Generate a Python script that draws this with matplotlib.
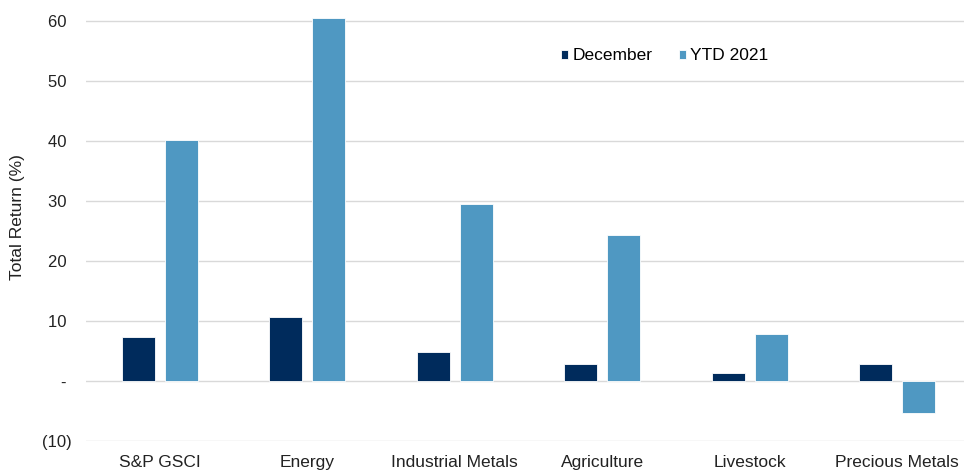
import matplotlib

matplotlib.use("Agg")
import matplotlib.pyplot as plt
import numpy as np

plt.rcParams["font.family"] = ["Liberation Sans", "DejaVu Sans"]

categories = ["S&P GSCI", "Energy", "Industrial Metals", "Agriculture", "Livestock", "Precious Metals"]
december = [7.3, 10.7, 4.8, 2.8, 1.4, 2.8]
ytd_2021 = [40.2, 60.5, 29.5, 24.3, 7.8, -5.3]
yticks = [-10, 0, 10, 20, 30, 40, 50, 60]
# Excel-style accounting labels: positives carry a trailing space to line up with ")"
ytick_labels = ["(10)", "- ", "10 ", "20 ", "30 ", "40 ", "50 ", "60 "]

DARK = "#002b5c"
LIGHT = "#4f98c2"
TEXT = "#222222"

fig = plt.figure(figsize=(9.64, 4.71), dpi=100)
ax = fig.add_axes([86 / 964, 30 / 471, 885 / 964, 441 / 471])

x = np.arange(len(categories))
width = 0.225
offset = 0.146
ax.bar(x - offset, december, width, color=DARK, edgecolor="white", linewidth=0.6, label="December", zorder=3)
ax.bar(x + offset, ytd_2021, width, color=LIGHT, edgecolor="white", linewidth=0.6, label="YTD 2021", zorder=3)

ax.set_xlim(-0.5, len(categories) - 0.5)
ax.set_ylim(-10, 63.5)
ax.set_yticks(yticks, ytick_labels)
ax.set_xticks(x, categories)
ax.tick_params(axis="both", length=0, colors=TEXT)
ax.tick_params(axis="y", pad=10.5, labelsize=12)
ax.tick_params(axis="x", pad=10, labelsize=12.5)
ax.grid(axis="y", color="#d9d9d9", linewidth=1.0, zorder=0)
for spine in ax.spines.values():
    spine.set_visible(False)

fig.text(18 / 964, 1 - 217 / 471, "Total Return (%)", rotation=90, ha="center", va="center",
         fontsize=12.5, color=TEXT)

ax.legend(loc="center left", bbox_to_anchor=(561 / 964, 1 - 56 / 471), bbox_transform=fig.transFigure,
          ncol=2, frameon=False, fontsize=12.5, borderpad=0, borderaxespad=0,
          handlelength=0.42, handleheight=0.42, handletextpad=0.25, columnspacing=1.5)

fig.savefig("out.png", dpi=100)
